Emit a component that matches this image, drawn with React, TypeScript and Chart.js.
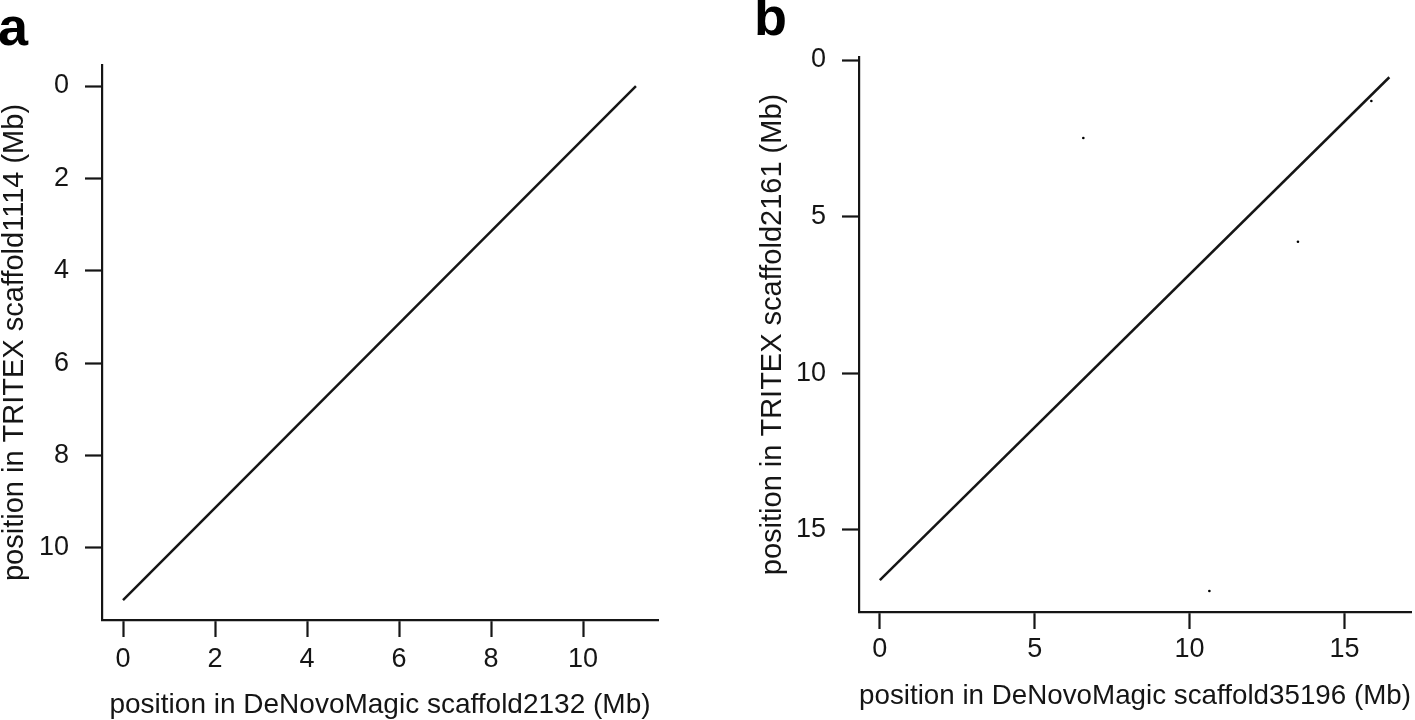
import React, { useEffect, useRef } from "react";
import { Chart, registerables } from "chart.js";

Chart.register(...registerables);

const FONT = "'Liberation Sans', Arial, Helvetica, sans-serif";
const INK = "#151515";

// ---- Panel a data ----
const aTicksX = [0, 2, 4, 6, 8, 10];
const aTicksY = [0, 2, 4, 6, 8, 10];
const aLineX = [0, 11.15];
const aLineY = [11.13, 0];
const aXTitle = "position in DeNovoMagic scaffold2132 (Mb)";
const aYTitle = "position in TRITEX scaffold1114 (Mb)";
const aLabel = "a";

// ---- Panel b data ----
const bTicksX = [0, 5, 10, 15];
const bTicksY = [0, 5, 10, 15];
const bLineX = [0, 16.45];
const bLineY = [16.6, 0.55];
const bDotX = [6.57, 13.5, 15.87, 10.64];
const bDotY = [2.49, 5.8, 1.31, 16.95];
const bXTitle = "position in DeNovoMagic scaffold35196 (Mb)";
const bYTitle = "position in TRITEX scaffold2161 (Mb)";
const bLabel = "b";

type PanelProps = {
  left: number;
  top: number;
  width: number;
  height: number;
  padTop: number;
  padRight: number;
  yAxisWidth: number;
  xAxisHeight: number;
  xMin: number;
  xMax: number;
  yMin: number;
  yMax: number;
  ticksX: number[];
  ticksY: number[];
  lineX: number[];
  lineY: number[];
  dotX: number[];
  dotY: number[];
  xTitle: string;
  yTitle: string;
  xTickPad: number;
  yTickPad: number;
  xTitlePadBottom: number;
  yTitlePadTop: number;
  label: string;
  labelX: number;
  labelY: number;
};

function Panel(p: PanelProps) {
  const ref = useRef<HTMLCanvasElement | null>(null);
  useEffect(() => {
    if (!ref.current) return;
    const lineData = p.lineX.map((x, i) => ({ x, y: p.lineY[i] }));
    const dotData = p.dotX.map((x, i) => ({ x, y: p.dotY[i] }));
    const labelPlugin = {
      id: "panelLabel",
      afterDraw(chart: any) {
        const ctx = chart.ctx;
        ctx.save();
        ctx.font = `bold 54px ${FONT}`;
        ctx.fillStyle = "#000";
        ctx.textAlign = "left";
        ctx.textBaseline = "alphabetic";
        ctx.fillText(p.label, p.labelX, p.labelY);
        ctx.restore();
      },
    };
    const common = {
      grid: {
        display: true,
        drawOnChartArea: false,
        drawTicks: true,
        tickLength: 17,
        tickColor: INK,
        tickWidth: 2.2,
      },
      border: { display: true, color: INK, width: 2.2 },
    };
    const chart = new Chart(ref.current, {
      type: "scatter",
      data: {
        datasets: [
          {
            data: lineData,
            showLine: true,
            borderColor: INK,
            borderWidth: 2.5,
            pointRadius: 0,
            fill: false,
          },
          {
            data: dotData,
            showLine: false,
            pointRadius: 1.3,
            pointBorderWidth: 0,
            backgroundColor: "#000",
            borderColor: "#000",
          },
        ],
      },
      options: {
        animation: false,
        responsive: false,
        maintainAspectRatio: false,
        layout: { padding: { top: p.padTop, right: p.padRight, left: 0, bottom: 0 } },
        plugins: { legend: { display: false }, tooltip: { enabled: false } },
        scales: {
          x: {
            type: "linear",
            position: "bottom",
            min: p.xMin,
            max: p.xMax,
            ...common,
            afterBuildTicks: (s: any) => {
              s.ticks = p.ticksX.map((v) => ({ value: v }));
            },
            afterFit: (s: any) => {
              s.height = p.xAxisHeight;
            },
            ticks: {
              autoSkip: false,
              maxRotation: 0,
              padding: p.xTickPad,
              color: INK,
              font: { family: FONT, size: 27 },
              callback: (v: any) => String(v),
            },
            title: {
              display: true,
              text: p.xTitle,
              color: INK,
              font: { family: FONT, size: 28, lineHeight: 1 },
              padding: { top: 0, bottom: p.xTitlePadBottom },
            },
          },
          y: {
            type: "linear",
            position: "left",
            reverse: true,
            min: p.yMin,
            max: p.yMax,
            ...common,
            afterBuildTicks: (s: any) => {
              s.ticks = p.ticksY.map((v) => ({ value: v }));
            },
            afterFit: (s: any) => {
              s.width = p.yAxisWidth;
            },
            ticks: {
              autoSkip: false,
              padding: p.yTickPad,
              color: INK,
              font: { family: FONT, size: 27 },
              callback: (v: any) => String(v),
            },
            title: {
              display: true,
              text: p.yTitle,
              color: INK,
              font: { family: FONT, size: 29, lineHeight: 1 },
              padding: { top: p.yTitlePadTop, bottom: 0 },
            },
          },
        },
      },
      plugins: [labelPlugin],
    } as any);
    return () => chart.destroy();
  }, []);
  return (
    <canvas
      ref={ref}
      width={p.width}
      height={p.height}
      style={{
        position: "absolute",
        left: p.left,
        top: p.top,
        width: p.width,
        height: p.height,
      }}
    />
  );
}

export default function App() {
  return (
    <div
      style={{
        position: "fixed",
        left: 0,
        top: 0,
        width: 1415,
        height: 720,
        background: "#fff",
        overflow: "hidden",
      }}
    >
      <Panel
        left={0}
        top={0}
        width={712}
        height={720}
        padTop={65}
        padRight={54}
        yAxisWidth={102}
        xAxisHeight={100}
        xMin={-0.457}
        xMax={11.63}
        yMin={-0.455}
        yMax={11.56}
        ticksX={aTicksX}
        ticksY={aTicksY}
        lineX={aLineX}
        lineY={aLineY}
        dotX={[]}
        dotY={[]}
        xTitle={aXTitle}
        yTitle={aYTitle}
        xTickPad={6}
        yTickPad={16}
        xTitlePadBottom={1}
        yTitlePadTop={0}
        label={aLabel}
        labelX={-2}
        labelY={45}
      />
      <Panel
        left={720}
        top={0}
        width={695}
        height={720}
        padTop={57}
        padRight={0}
        yAxisWidth={139}
        xAxisHeight={108}
        xMin={-0.673}
        xMax={17.15}
        yMin={-0.096}
        yMax={17.62}
        ticksX={bTicksX}
        ticksY={bTicksY}
        lineX={bLineX}
        lineY={bLineY}
        dotX={bDotX}
        dotY={bDotY}
        xTitle={bXTitle}
        yTitle={bYTitle}
        xTickPad={4}
        yTickPad={16}
        xTitlePadBottom={10}
        yTitlePadTop={38}
        label={bLabel}
        labelX={34}
        labelY={35}
      />
    </div>
  );
}
